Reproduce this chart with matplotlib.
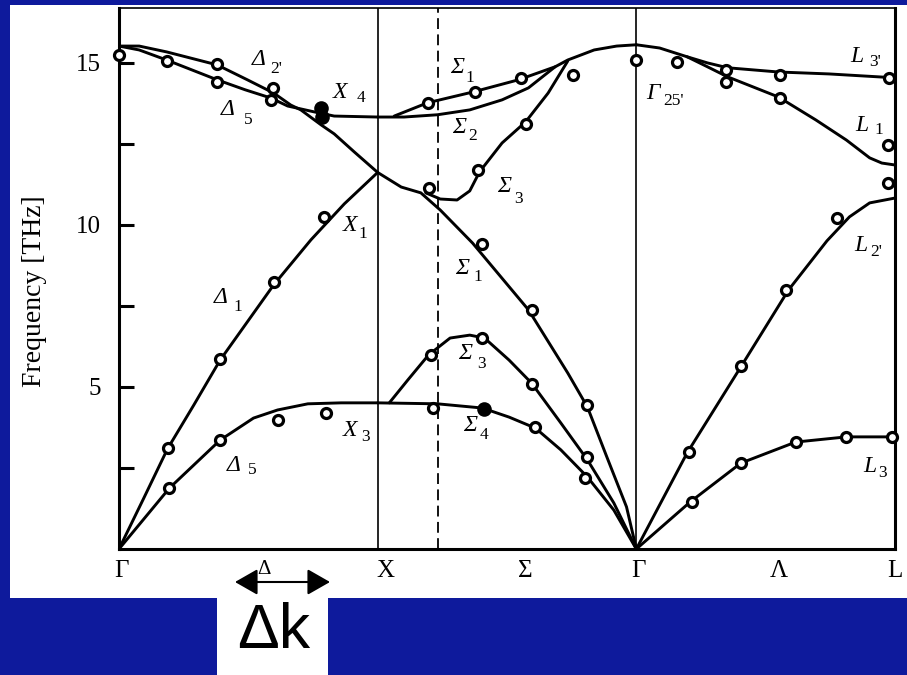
import matplotlib
matplotlib.use('Agg')
import matplotlib.pyplot as plt
from matplotlib.patches import Rectangle, FancyArrowPatch

# k path: Γ = 0, X = 1, Γ = 2, L = 3 ; frequencies in THz
K_POINT = 1.235          # dashed line inside the Σ segment

# --- Γ-X (Δ) branches ---
delta_lo_k = [0.0, 0.078, 0.184, 0.379, 0.496, 0.598, 0.664, 0.703, 0.781, 0.832, 0.910, 1.0]
delta_lo_f = [15.52, 15.52, 15.34, 14.94, 14.48, 14.07, 13.70, 13.55, 13.09, 12.81, 12.25, 11.62]

delta_to_k = [0.0, 0.078, 0.184, 0.379, 0.488, 0.586, 0.652, 0.754, 0.832, 1.0]
delta_to_f = [15.52, 15.40, 15.09, 14.48, 14.17, 13.92, 13.67, 13.49, 13.36, 13.33]

delta_la_k = [0.0, 0.094, 0.1875, 0.289, 0.391, 0.598, 0.742, 0.871, 1.0]
delta_la_f = [0.0, 1.54, 3.09, 4.44, 5.83, 8.15, 9.54, 10.65, 11.62]

delta_ta_k = [0.0, 0.195, 0.391, 0.520, 0.613, 0.730, 0.859, 1.0]
delta_ta_f = [0.0, 1.88, 3.36, 4.04, 4.29, 4.48, 4.51, 4.51]

# --- X-Γ (Σ) branches ---
sigma1_opt_k = [1.064, 1.193, 1.367, 1.545, 1.686, 1.735, 1.837, 1.924, 2.0]
sigma1_opt_f = [13.36, 13.77, 14.10, 14.48, 14.88, 15.09, 15.40, 15.52, 15.56]

sigma2_k = [1.0, 1.102, 1.231, 1.356, 1.481, 1.583, 1.686]
sigma2_f = [13.33, 13.33, 13.40, 13.55, 13.86, 14.23, 14.88]

sigma3_opt_k = [1.186, 1.242, 1.307, 1.356, 1.394, 1.481, 1.572, 1.659, 1.735]
sigma3_opt_f = [10.99, 10.80, 10.77, 11.05, 11.64, 12.53, 13.18, 14.07, 15.06]

sigma1_la_k = [1.0, 1.091, 1.167, 1.242, 1.367, 1.583, 1.735, 1.811, 1.886, 1.962, 2.0]
sigma1_la_f = [11.62, 11.17, 10.99, 10.46, 9.44, 7.38, 5.43, 4.38, 2.84, 1.30, 0.0]

sigma3_ac_k = [1.045, 1.117, 1.197, 1.280, 1.356, 1.413, 1.508, 1.595, 1.708, 1.811, 1.913, 2.0]
sigma3_ac_f = [4.51, 5.22, 5.99, 6.51, 6.60, 6.51, 5.83, 5.12, 3.89, 2.75, 1.42, 0.0]

sigma4_k = [1.0, 1.231, 1.405, 1.508, 1.610, 1.708, 1.811, 1.913, 2.0]
sigma4_f = [4.51, 4.48, 4.35, 4.07, 3.73, 3.06, 2.22, 1.20, 0.0]

# --- Γ-L (Λ) branches ---
lam_l3p_k = [2.0, 2.090, 2.196, 2.275, 2.353, 2.549, 2.745, 3.0]
lam_l3p_f = [15.56, 15.46, 15.19, 15.00, 14.85, 14.72, 14.66, 14.54]

lam_l1_k = [2.196, 2.275, 2.353, 2.549, 2.694, 2.812, 2.902, 2.949, 3.0]
lam_l1_f = [15.19, 14.88, 14.57, 13.95, 13.24, 12.62, 12.07, 11.91, 11.85]

lam_l2p_k = [2.0, 2.196, 2.404, 2.588, 2.737, 2.824, 2.902, 3.0]
lam_l2p_f = [0.0, 2.96, 5.62, 7.99, 9.51, 10.25, 10.68, 10.83]

lam_l3_k = [2.0, 2.208, 2.404, 2.616, 2.812, 3.0]
lam_l3_f = [0.0, 1.45, 2.65, 3.30, 3.46, 3.46]

branches = [
    (delta_lo_k, delta_lo_f), (delta_to_k, delta_to_f),
    (delta_la_k, delta_la_f), (delta_ta_k, delta_ta_f),
    (sigma1_opt_k, sigma1_opt_f), (sigma2_k, sigma2_f),
    (sigma3_opt_k, sigma3_opt_f), (sigma1_la_k, sigma1_la_f),
    (sigma3_ac_k, sigma3_ac_f), (sigma4_k, sigma4_f),
    (lam_l3p_k, lam_l3p_f), (lam_l1_k, lam_l1_f),
    (lam_l2p_k, lam_l2p_f), (lam_l3_k, lam_l3_f),
]

# neutron scattering points
meas_delta_k = [0.0, 0.184, 0.379, 0.379, 0.594, 0.586,
                0.188, 0.391, 0.598, 0.793, 0.195, 0.391, 0.613, 0.801]
meas_delta_f = [15.25, 15.06, 14.97, 14.41, 14.23, 13.86,
                3.12, 5.86, 8.24, 10.25, 1.88, 3.36, 3.98, 4.20]

meas_sigma_k = [1.193, 1.375, 1.553, 1.754, 2.0, 1.572, 1.386, 1.197,
                1.402, 1.595, 1.811, 1.205, 1.405, 1.595, 1.811,
                1.212, 1.610, 1.803]
meas_sigma_f = [13.77, 14.10, 14.54, 14.63, 15.09, 13.12, 11.70, 11.14,
                9.41, 7.38, 4.44, 5.99, 6.51, 5.09, 2.84,
                4.35, 3.77, 2.19]

meas_lambda_k = [2.157, 2.345, 2.345, 2.557, 2.557, 2.976, 2.973, 2.973, 2.776,
                 2.580, 2.404, 2.204, 2.216, 2.404, 2.616, 2.812, 2.99]
meas_lambda_f = [15.03, 14.78, 14.41, 14.63, 13.92, 14.54, 12.47, 11.30, 10.22,
                 7.99, 5.65, 2.99, 1.45, 2.65, 3.30, 3.46, 3.46]

meas_filled_k = [0.781, 0.785, 1.413]
meas_filled_f = [13.61, 13.33, 4.32]

path_ticks = [0.01, 0.56, 1.03, 1.57, 2.01, 2.55, 3.0]
path_labels = ['Γ', 'Δ', 'X', 'Σ', 'Γ', 'Λ', 'L']

BLUE = '#0e1a9c'
SERIF = 'Liberation Serif'

fig = plt.figure(figsize=(9.07, 6.75), dpi=100, facecolor=BLUE)
W, H = 907, 675

# white sheet with the scanned figure and the small tab below it
fig.add_artist(Rectangle((10 / W, 1 - 598 / H), 897 / W, 593 / H,
                         transform=fig.transFigure, facecolor='white',
                         edgecolor='none', zorder=-2))
fig.add_artist(Rectangle((217 / W, 0), 111 / W, 78 / H,
                         transform=fig.transFigure, facecolor='white',
                         edgecolor='none', zorder=-2))

ax = fig.add_axes([119 / W, 1 - 549 / H, 776 / W, 541.5 / H])
ax.set_facecolor('none')
ax.set_xlim(0, 3)
ax.set_ylim(0, 16.71)

for k, f in branches:
    ax.plot(k, f, color='black', lw=2.1, solid_capstyle='round',
            solid_joinstyle='round', zorder=3)

for xv in (1.0, 2.0):
    ax.axvline(xv, color='black', lw=1.2, zorder=2)
ax.axvline(K_POINT, color='black', lw=1.3, ls=(0, (6, 3)), zorder=2)

for k, f in [(meas_delta_k, meas_delta_f), (meas_sigma_k, meas_sigma_f),
             (meas_lambda_k, meas_lambda_f)]:
    ax.plot(k, f, 'o', ms=7.2, mew=2.3, mfc='white', mec='black',
            zorder=5, clip_on=False)
ax.plot(meas_filled_k, meas_filled_f, 'o', ms=9, mew=1.5, mfc='black',
        mec='black', zorder=5)

# branch symmetry labels: (symbol, k, f, subscript, k_sub, f_sub)
branch_labels = [
    ('Δ', 0.539, 15.09, "2'", 0.609, 14.81),
    ('Δ', 0.422, 13.55, '5', 0.500, 13.24),
    ('X', 0.855, 14.10, '4', 0.934, 13.92),
    ('X', 0.891, 9.97, '1', 0.941, 9.72),
    ('Δ', 0.395, 7.75, '1', 0.461, 7.47),
    ('Δ', 0.445, 2.59, '5', 0.516, 2.44),
    ('X', 0.891, 3.67, '3', 0.953, 3.46),
    ('Σ', 1.307, 14.85, '1', 1.356, 14.54),
    ('Σ', 1.314, 13.02, '2', 1.367, 12.75),
    ('Σ', 1.489, 11.20, '3', 1.5455, 10.80),
    ('Σ', 1.326, 8.67, '1', 1.386, 8.40),
    ('Σ', 1.337, 6.02, '3', 1.402, 5.71),
    ('Σ', 1.356, 3.80, '4', 1.413, 3.52),
    ('Γ', 2.063, 14.07, "25'", 2.145, 13.83),
    ('L', 2.851, 15.19, "3'", 2.922, 15.03),
    ('L', 2.871, 13.06, '1', 2.937, 12.93),
    ('L', 2.867, 9.38, "2'", 2.929, 9.17),
    ('L', 2.902, 2.56, '3', 2.953, 2.35),
]
for sym, k, f, sub, ks, fs in branch_labels:
    ax.text(k, f, sym, family=SERIF, style='italic', fontsize=17,
            ha='center', va='center', zorder=6)
    ax.text(ks, fs, sub, family=SERIF, fontsize=12.5,
            ha='center', va='center', zorder=6)

# axes frame and ticks
for side in ('left', 'bottom', 'right'):
    ax.spines[side].set_linewidth(2.2)
ax.spines['top'].set_linewidth(1.2)

ax.set_yticks([2.5, 5, 7.5, 10, 12.5, 15])
ax.set_yticklabels(['', '5', '', '10', '', '15'], family=SERIF, fontsize=18)
ax.tick_params(axis='y', direction='in', length=11, width=2.2, pad=13)

ax.set_xticks(path_ticks)
ax.set_xticklabels(path_labels, family=SERIF, fontsize=18)
ax.get_xticklabels()[1].set_fontsize(15)
ax.tick_params(axis='x', length=0, pad=8)

fig.text(35 / W, 1 - 291 / H, 'Frequency [THz]', rotation=90,
         family=SERIF, fontsize=20, ha='center', va='center')

# Δk marker under the Δ direction (drawn beneath the axes so the Δ label stays visible)
fig.add_artist(FancyArrowPatch((235 / W, 1 - 582 / H), (330 / W, 1 - 582 / H),
                               transform=fig.transFigure,
                               arrowstyle='<|-|>,head_length=0.7,head_width=0.4',
                               mutation_scale=20, color='black', lw=1.5,
                               shrinkA=0, shrinkB=0, zorder=-1))
fig.text(274 / W, 1 - 648 / H, 'Δk', family='Liberation Sans', fontsize=45,
         ha='center', va='baseline')

fig.savefig('out.png', dpi=100, facecolor=fig.get_facecolor())
